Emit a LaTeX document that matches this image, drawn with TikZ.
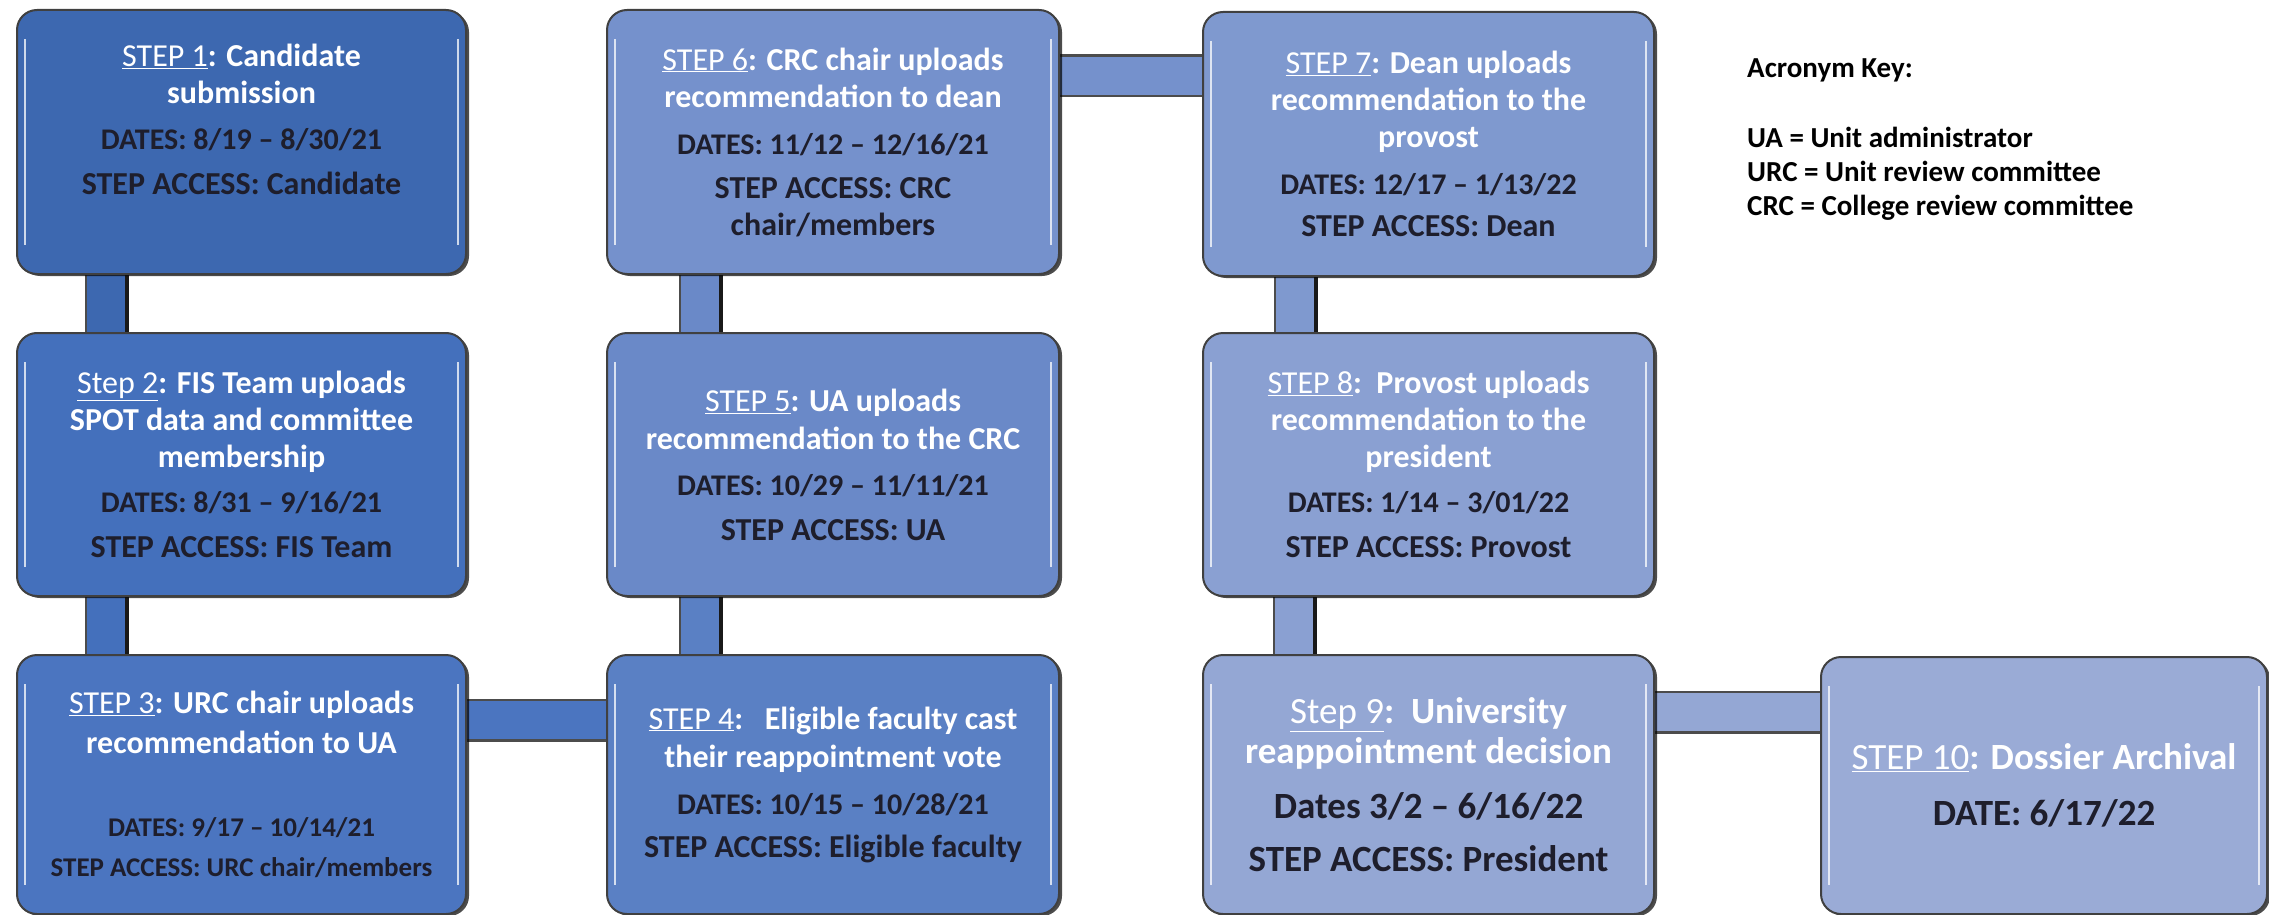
\documentclass[tikz,border=0pt]{standalone}
\usepackage{fontspec}
\setmainfont{Carlito}
\usetikzlibrary{shadows}
\pgfdeclarelayer{bg}
\pgfsetlayers{bg,main}
\definecolor{c1}{HTML}{3D68B0}
\definecolor{c2}{HTML}{4470BC}
\definecolor{c3}{HTML}{4B75C0}
\definecolor{c4}{HTML}{5A80C4}
\definecolor{c5}{HTML}{6A89C8}
\definecolor{c6}{HTML}{7591CC}
\definecolor{c7}{HTML}{7F99CF}
\definecolor{c8}{HTML}{8AA0D2}
\definecolor{c9}{HTML}{94A7D4}
\definecolor{c10}{HTML}{9AABD6}
\definecolor{txtdark}{HTML}{1E1E2C}
\newcommand\dk{\color{txtdark}}
\newcommand\stp[1]{\underline{\mdseries #1}}
\newcommand\dsz{\fontsize{30}{37}\selectfont}
\newcommand\hilite[1]{%
  \draw[hlline] ([xshift=9pt,yshift=-30pt]#1.north west) -- ([xshift=9pt,yshift=30pt]#1.south west);
  \draw[hlline] ([xshift=-9pt,yshift=-30pt]#1.north east) -- ([xshift=-9pt,yshift=30pt]#1.south east);}
\begin{document}
\begin{tikzpicture}[x=1pt,y=-1pt,
  stepbox/.style={draw=black!75, line width=2pt, rounded corners=20pt,
    anchor=north west, inner sep=0pt, align=center, text=white,
    font=\bfseries\fontsize{32}{37}\selectfont,
    drop shadow={shadow xshift=3pt, shadow yshift=-2pt, opacity=0.7, fill=black}},
  colA/.style={minimum width=449pt},
  colB/.style={minimum width=452pt},
  colC/.style={minimum width=451pt},
  rowT/.style={minimum height=264pt},
  rowM/.style={minimum height=263pt},
  rowB/.style={minimum height=259pt},
  conn/.style={line width=2.5pt, draw=black!70, double=#1, double distance=38pt,
    shorten <=-8pt, shorten >=-8pt},
  connedge/.style={line width=3.5pt, draw=black!90, shorten <=-8pt, shorten >=-8pt},
  hlline/.style={white, line width=2pt, opacity=0.75},
  keytext/.style={anchor=north west, align=left, inner sep=0pt, text=black,
    font=\bfseries\fontsize{29}{34}\selectfont}
]
\useasboundingbox (0,0) rectangle (2269,915);

% column A
\node[stepbox, colA, rowT, fill=c1, text depth=46pt] (s1) at (16,9)
  {\stp{STEP 1}: Candidate\\ submission\\[9pt]
   {\dk\dsz DATES: 8/19 -- 8/30/21}\\[8pt]
   {\dk STEP ACCESS: Candidate}};
\node[stepbox, colA, rowM, fill=c2] (s2) at (16,332)
  {\stp{Step 2}: FIS Team uploads\\ SPOT data and committee\\ membership\\[8pt]
   {\dk\dsz DATES: 8/31 -- 9/16/21}\\[8pt]
   {\dk STEP ACCESS: FIS Team}};
\node[stepbox, colA, rowB, fill=c3, font=\bfseries\fontsize{32}{40}\selectfont] (s3) at (16,654)
  {\stp{STEP 3}: URC chair uploads\\ recommendation to UA\\[43pt]
   {\dk\fontsize{27}{40}\selectfont DATES: 9/17 -- 10/14/21}\\
   {\dk\fontsize{27}{40}\selectfont STEP ACCESS: URC chair/members}};

% column B
\node[stepbox, colB, rowB, fill=c4, font=\bfseries\fontsize{32}{38}\selectfont] (s4) at (606,654)
  {\stp{STEP 4}:~~~Eligible faculty cast\\ their reappointment vote\\[9pt]
   {\dk\dsz DATES: 10/15 -- 10/28/21}\\[5pt]
   {\dk STEP ACCESS: Eligible faculty}};
\node[stepbox, colB, rowM, fill=c5, font=\bfseries\fontsize{32}{38}\selectfont] (s5) at (606,332)
  {\stp{STEP 5}: UA uploads\\ recommendation to the CRC\\[8pt]
   {\dk\dsz DATES: 10/29 -- 11/11/21}\\[7pt]
   {\dk STEP ACCESS: UA}};
\node[stepbox, colB, rowT, fill=c6] (s6) at (606,9)
  {\stp{STEP 6}: CRC chair uploads\\ recommendation to dean\\[10pt]
   {\dk\dsz DATES: 11/12 -- 12/16/21}\\[7pt]
   {\dk STEP ACCESS: CRC}\\ {\dk chair/members}};

% column C
\node[stepbox, colC, rowT, fill=c7] (s7) at (1202,11)
  {\stp{STEP 7}: Dean uploads\\ recommendation to the\\ provost\\[10pt]
   {\dk\dsz DATES: 12/17 -- 1/13/22}\\[5pt]
   {\dk STEP ACCESS: Dean}};
\node[stepbox, colC, rowM, fill=c8] (s8) at (1202,332)
  {\stp{STEP 8}:~~Provost uploads\\ recommendation to the\\ president\\[8pt]
   {\dk\dsz DATES: 1/14 -- 3/01/22}\\[8pt]
   {\dk STEP ACCESS: Provost}};
\node[stepbox, colC, rowB, fill=c9, font=\bfseries\fontsize{37}{40}\selectfont] (s9) at (1202,654)
  {\stp{Step 9}:~~University\\ reappointment decision\\[15pt]
   {\dk Dates 3/2 -- 6/16/22}\\[13pt]
   {\dk STEP ACCESS: President}};
\node[stepbox, minimum width=446pt, minimum height=257pt, fill=c10, font=\bfseries\fontsize{37}{40}\selectfont] (s10) at (1820,656)
  {\stp{STEP 10}: Dossier Archival\\[16pt]
   {\dk DATE: 6/17/22}};

\foreach \n in {s1,s2,s3,s4,s5,s6,s7,s8,s9,s10} {\hilite{\n}}

% acronym key
\node[keytext] (key) at (1747,58)
  {Acronym Key:\\[36pt] UA = Unit administrator\\ URC = Unit review committee\\ CRC = College review committee};

% connector anchor points
\coordinate (c12) at ([xshift=90pt]s1.south west);
\coordinate (c23) at ([xshift=90pt]s2.south west);
\coordinate (c34) at ([yshift=-66pt]s3.north east);
\coordinate (c45) at ([xshift=94pt]s4.north west);
\coordinate (c56) at ([xshift=94pt]s5.north west);
\coordinate (c67) at ([yshift=-67pt]s6.north east);
\coordinate (c78) at ([xshift=93pt]s7.south west);
\coordinate (c89) at ([xshift=92pt]s8.south west);
\coordinate (c910) at ([yshift=-58pt]s9.north east);
% right edges of the vertical connectors
\coordinate (e12) at ([xshift=21pt]c12);
\coordinate (e23) at ([xshift=21pt]c23);
\coordinate (e45) at ([xshift=21pt]c45);
\coordinate (e56) at ([xshift=21pt]c56);
\coordinate (e78) at ([xshift=21pt]c78);
\coordinate (e89) at ([xshift=21pt]c89);

\begin{pgfonlayer}{bg}
  \fill[white] (0,0) rectangle (2269,915);
  \draw[conn=c1] (c12) -- (c12 |- s2.north);
  \draw[conn=c2] (c23) -- (c23 |- s3.north);
  \draw[conn=c3] (c34) -- (c34 -| s4.west);
  \draw[conn=c4] (c45) -- (c45 |- s5.south);
  \draw[conn=c5] (c56) -- (c56 |- s6.south);
  \draw[conn=c6] (c67) -- (c67 -| s7.west);
  \draw[conn=c7] (c78) -- (c78 |- s8.north);
  \draw[conn=c8] (c89) -- (c89 |- s9.north);
  \draw[conn=c9] (c910) -- (c910 -| s10.west);
  \draw[connedge] (e12) -- (e12 |- s2.north);
  \draw[connedge] (e23) -- (e23 |- s3.north);
  \draw[connedge] (e45) -- (e45 |- s5.south);
  \draw[connedge] (e56) -- (e56 |- s6.south);
  \draw[connedge] (e78) -- (e78 |- s8.north);
  \draw[connedge] (e89) -- (e89 |- s9.north);
\end{pgfonlayer}
\end{tikzpicture}
\end{document}
